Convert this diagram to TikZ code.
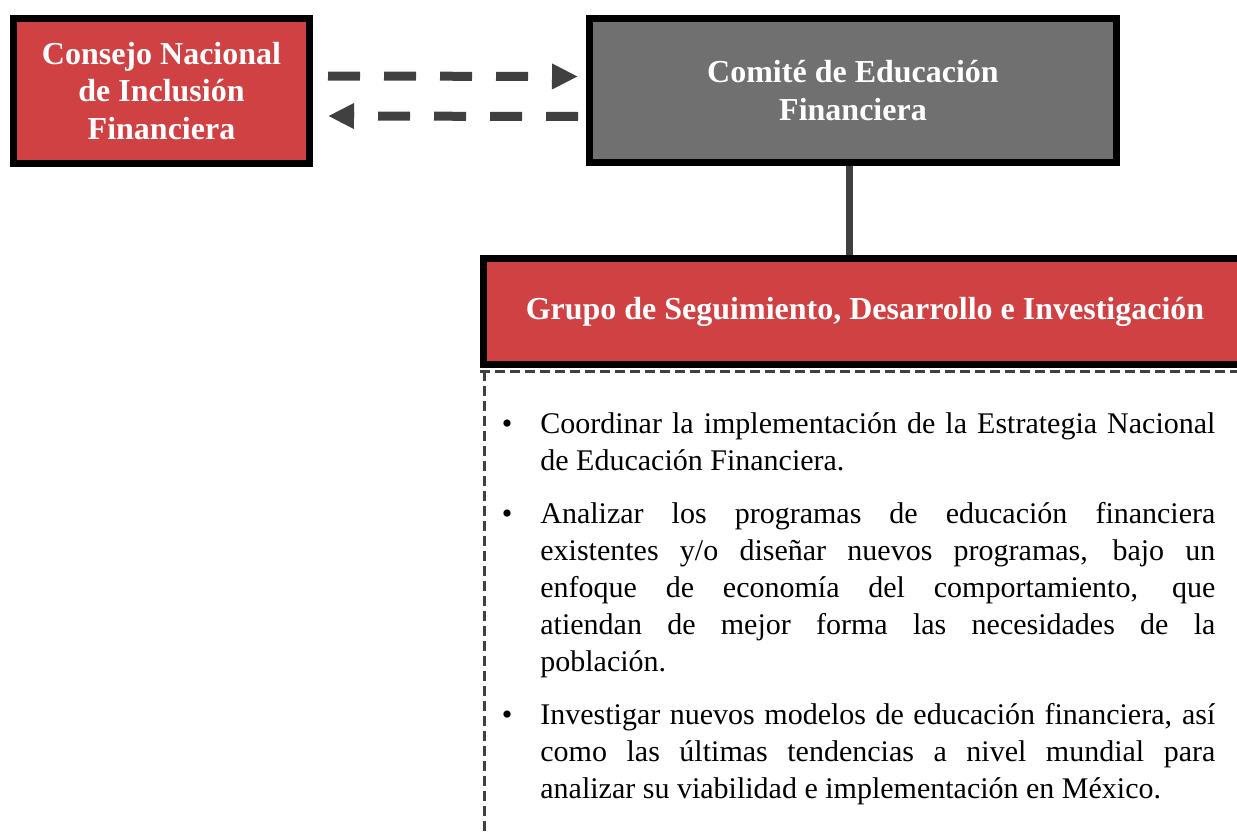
\documentclass[tikz,border=0pt]{standalone}
\usepackage{fontspec}
\setmainfont{Liberation Serif}
\usetikzlibrary{arrows.meta}
\definecolor{boxred}{RGB}{207,65,67}
\definecolor{boxgrey}{RGB}{112,112,112}
\definecolor{linkgrey}{RGB}{64,64,64}

\begin{document}
\begin{tikzpicture}[
        x=0.5pt, y=-0.5pt,
        orgbox/.style={
            draw=black,
            line width=3.5pt,
            text=white,
            align=center,
            font=\fontsize{16}{18.8}\selectfont\bfseries
        },
        redbox/.style={orgbox, fill=boxred},
        greybox/.style={orgbox, fill=boxgrey},
        flow/.style={
            draw=linkgrey,
            line width=4.5pt,
            dash pattern=on 16pt off 12pt,
            -{Triangle[length=13pt,width=12pt]}
        },
        link/.style={draw=linkgrey, line width=3.5pt},
        dashframe/.style={draw=linkgrey, line width=1.5pt, dash pattern=on 5pt off 2.5pt}
    ]
    \useasboundingbox (0,0) rectangle (1237,835);

    \node[redbox, minimum width=148pt, minimum height=72.5pt] (consejo) at (161.5,91)
        {Consejo Nacional\\de Inclusión\\Financiera};
    \node[greybox, minimum width=263.5pt, minimum height=72pt] (comite) at (853,90.5)
        {Comité de Educación\\Financiera};
    \node[redbox, minimum width=381.5pt, minimum height=53pt] (grupo) at (865,311.5)
        {Grupo de Seguimiento, Desarrollo e Investigación};

    \draw[flow] ([shift={(7.5pt,7.5pt)}]consejo.east) -- ([shift={(-4pt,7pt)}]comite.west);
    \draw[flow] ([shift={(-4pt,-13pt)}]comite.west) -- ([shift={(7.5pt,-12.5pt)}]consejo.east);
    \draw[link] ([xshift=-2pt]comite.south) -- ([xshift=-2pt]comite.south |- grupo.north);

    \coordinate (framebottom) at (484,845);
    \draw[dashframe] ([yshift=-1.5pt]grupo.south west) -- ([yshift=-1.5pt]grupo.south east);
    \draw[dashframe] ([yshift=-1.5pt]grupo.south west -| framebottom) -- (framebottom);

    \setlength{\leftmargini}{20pt}
    \setlength{\labelsep}{14pt}
    \node[anchor=north west, inner sep=0pt, text width=357.5pt, align=justify,
        font=\fontsize{15}{18.5}\selectfont] (tareas) at (500,380) {%
        \begin{itemize}
            \setlength{\itemsep}{4pt}
            \setlength{\parsep}{0pt}
            \item Coordinar la implementación de la Estrategia Nacional\linebreak
                de Educación Financiera.
            \item Analizar los programas de educación financiera\linebreak
                existentes y/o diseñar nuevos programas, bajo un\linebreak
                enfoque de economía del comportamiento, que\linebreak
                atiendan de mejor forma las necesidades de la\linebreak
                población.
            \item Investigar nuevos modelos de educación financiera, así\linebreak
                como las últimas tendencias a nivel mundial para\linebreak
                analizar su viabilidad e implementación en México.
        \end{itemize}};
\end{tikzpicture}
\end{document}
